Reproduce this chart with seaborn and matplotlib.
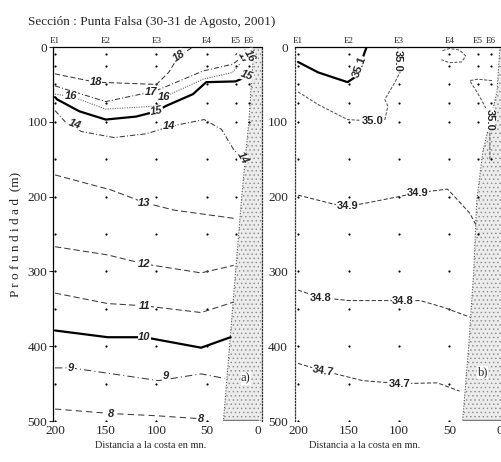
import numpy as np
import pandas as pd
import seaborn as sns
import matplotlib.pyplot as plt

# ---------------- data ----------------
stations = ["E1", "E2", "E3", "E4", "E5", "E6"]
station_km = [200, 150, 100, 50, 22, 9]
station_max_depth = [500, 500, 500, 500, 250, 150]
sample_depths = [10, 25, 50, 75, 100, 150, 200, 250, 300, 350, 400, 450, 500]

depth_ticks = [0, 100, 200, 300, 400, 500]
dist_ticks = [200, 150, 100, 50, 0]

# temperature isolines (panel a), distance (mn) / depth (m)
t18_km = [200, 160, 100, 88, 78, 64]
t18_m = [36, 47, 50, 34, 12, 0]
t17_km = [200, 150, 105, 96, 54, 25, 15, 12]
t17_m = [52, 73, 60, 56, 32, 23, 13, 0]
t16_km = [200, 184, 150, 100, 93, 54, 25, 9, 5]
t16_m = [63, 66, 83, 79, 67, 43, 34, 9, 0]
t15_km = [200, 198, 176, 150, 120, 100, 91, 64, 51, 22, 12, 6]
t15_m = [67, 70, 86, 97, 93, 86, 79, 63, 47, 46, 40, 39]
t14_km = [200, 190, 174, 142, 110, 86, 53, 36, 24, 15]
t14_m = [85, 100, 113, 121, 116, 106, 97, 110, 137, 150]
t13_km = [200, 145, 112, 83, 24]
t13_m = [171, 191, 208, 218, 229]
t12_km = [200, 148, 112, 56, 24]
t12_m = [267, 278, 290, 302, 292]
t11_km = [200, 148, 112, 56, 24]
t11_m = [329, 343, 346, 355, 341]
t10_km = [200, 148, 112, 56, 27]
t10_m = [379, 388, 388, 402, 388]
t9_km = [200, 184, 98, 56, 33]
t9_m = [429, 429, 446, 437, 443]
t8_km = [200, 145, 100, 56]
t8_m = [484, 490, 493, 497]

# salinity isolines (panel b)
s351_km = [200, 180, 151, 142, 139, 134, 132]
s351_m = [20, 34, 47, 39, 27, 7, 0]
s350_km = [200, 180, 151, 126, 114, 111, 114, 104, 99, 101, 101]
s350_m = [60, 77, 97, 99, 97, 79, 70, 47, 34, 16, 0]
s350b_km = [57, 50, 40, 34, 38, 50, 58]
s350b_m = [5, 2, 4, 12, 20, 21, 17]
s350c_km = [8, 22, 30, 22, 15, 10, 10]
s350c_m = [45, 43, 45, 62, 79, 97, 150]
s349_km = [200, 165, 151, 130, 100, 82, 52, 45, 30, 23]
s349_m = [198, 210, 213, 208, 200, 195, 190, 200, 222, 240]
s348_km = [200, 178, 149, 96, 79, 56, 30]
s348_m = [325, 335, 339, 339, 339, 348, 361]
s347_km = [200, 175, 136, 99, 62, 40]
s347_m = [423, 433, 446, 450, 449, 460]

# continental slope (sea floor)
bottom_a_m = [0, 100, 200, 300, 400, 500]
bottom_a_km = [4, 9, 16, 22, 28, 34]
bottom_b_m = [0, 60, 140, 205, 300, 400, 500]
bottom_b_km = [0, 3, 17, 23, 26, 31, 37]

# isoline labels: text, distance, depth, rotation
t_lab_txt = ["18", "18", "17", "17", "16", "16", "16", "15", "15", "14", "14", "14",
             "13", "12", "11", "10", "9", "9", "8", "8"]
t_lab_km = [160, 78, 105, 14, 184, 93, 8, 100, 11, 181, 88, 15,
            112, 112, 112, 112, 184, 91, 145, 56]
t_lab_m = [47, 12, 60, 15, 66, 67, 12, 86, 38, 103, 106, 148,
           208, 290, 346, 388, 429, 440, 490, 497]
t_lab_rot = [0, 35, 0, -60, 0, 0, -60, 10, -20, -20, 0, -60,
             0, 0, 0, 0, 0, 0, 0, 0]

s_lab_txt = ["35.1", "35.0", "35.0", "35.0", "34.9", "34.9", "34.8", "34.8", "34.7", "34.7"]
s_lab_km = [139, 101, 126, 10, 151, 82, 178, 96, 175, 99]
s_lab_m = [27, 18, 99, 97, 213, 195, 335, 339, 433, 450]
s_lab_rot = [70, -90, 0, -90, 0, 0, 0, 0, -10, 0]

# ---------------- styles ----------------
thin = dict(color="#3a3a3a", linewidth=0.75)
thick = dict(color="black", linewidth=1.6)
dash = (0, (5, 2.5))
dashdot = (0, (5, 2, 1, 2))
dots = (0, (1, 1.3))

t_lines = [
    (t18_km, t18_m, dict(thin, linestyle=dash)),
    (t17_km, t17_m, dict(thin, linestyle=dashdot)),
    (t16_km, t16_m, dict(thin, linestyle=dots, color="#555555")),
    (t15_km, t15_m, dict(thick, linestyle="-")),
    (t14_km, t14_m, dict(thin, linestyle=dashdot)),
    (t13_km, t13_m, dict(thin, linestyle=(0, (6, 3)))),
    (t12_km, t12_m, dict(thin, linestyle=(0, (6, 3)))),
    (t11_km, t11_m, dict(thin, linestyle=(0, (6, 3)))),
    (t10_km, t10_m, dict(thick, linestyle="-")),
    (t9_km, t9_m, dict(thin, linestyle=(0, (7, 3, 1, 3)))),
    (t8_km, t8_m, dict(thin, linestyle=(0, (6, 4)))),
]
s_lines = [
    (s351_km, s351_m, dict(thick, linestyle="-")),
    (s350_km, s350_m, dict(thin, linestyle=(0, (3, 1.5)), color="#555555")),
    (s350b_km, s350b_m, dict(thin, linestyle=(0, (3, 1.5)), color="#555555")),
    (s350c_km, s350c_m, dict(thin, linestyle=(0, (3, 1.5)), color="#555555")),
    (s349_km, s349_m, dict(thin, linestyle=(0, (4, 2)))),
    (s348_km, s348_m, dict(thin, linestyle=(0, (4, 2)))),
    (s347_km, s347_m, dict(thin, linestyle=(0, (4, 2)))),
]

# ---------------- figure ----------------
sns.set_theme(style="white")
plt.rcParams["font.family"] = ["Liberation Serif", "DejaVu Serif"]
plt.rcParams["hatch.linewidth"] = 0.5
plt.rcParams["hatch.color"] = "#808080"

W, H = 502, 462
fig = plt.figure(figsize=(W / 100, H / 100), dpi=100)
top_px, bot_px = 47, 421
axL = fig.add_axes([53 / W, 1 - bot_px / H, 209 / W, (bot_px - top_px) / H])
axR = fig.add_axes([295 / W, 1 - bot_px / H, 207 / W, (bot_px - top_px) / H])

pts = pd.DataFrame(
    [(k, d) for k, md in zip(station_km, station_max_depth) for d in sample_depths if d <= md],
    columns=["km", "m"],
)


def draw_panel(ax, lines, lab_txt, lab_km, lab_m, lab_rot, bot_km, bot_m, xlim, italic, tag, tag_pos):
    ax.set_xlim(*xlim)
    ax.set_ylim(500, 0)
    # sea floor
    ax.fill_betweenx(bot_m, bot_km, xlim[1] - 1, facecolor="#ececec", edgecolor="#8a8a8a",
                     hatch="....", linewidth=0, zorder=1)
    ax.plot(bot_km, bot_m, linestyle=(0, (1, 1.5)), color="#555555", linewidth=0.8, zorder=2)
    ax.plot([bot_km[-1], 0], [499, 499], color="#777777", linewidth=1.0, zorder=2)
    # stations
    sns.scatterplot(data=pts, x="km", y="m", ax=ax, s=2.5, color="black", marker="o",
                    linewidth=0, zorder=3)
    # isolines
    for km, m, st in lines:
        sns.lineplot(x=km, y=m, sort=False, estimator=None, ax=ax, zorder=4, **st)
    for t, k, d, r in zip(lab_txt, lab_km, lab_m, lab_rot):
        ax.text(k, d, t, ha="center", va="center", rotation=r, fontsize=8,
                fontweight="bold", fontstyle="italic" if italic else "normal",
                family=["Liberation Sans", "DejaVu Sans"], zorder=6,
                bbox=dict(facecolor="white", edgecolor="none", pad=0.4))
    # station names
    for name, k in zip(stations, station_km):
        ax.text(k, -3, name, ha="center", va="bottom", fontsize=6.5, color="#222222")
    ax.text(tag_pos[0], tag_pos[1], tag, ha="center", va="center", fontsize=9,
            zorder=6, bbox=dict(facecolor="white", edgecolor="none", pad=0.3))
    ax.set_xticks(dist_ticks)
    ax.set_xticklabels([str(v) for v in dist_ticks])
    ax.set_yticks(depth_ticks)
    ax.set_yticklabels([str(v) for v in depth_ticks])
    ax.set_xlabel("")
    ax.set_ylabel("")
    ax.tick_params(axis="x", length=0, pad=3, labelsize=9.5)
    ax.spines["bottom"].set_visible(False)
    ax.spines["top"].set_linewidth(0.9)
    ax.spines["top"].set_color("black")
    ax.spines["right"].set_linestyle((0, (1, 1.5)))
    ax.spines["right"].set_color("#333333")
    ax.spines["right"].set_linewidth(0.9)
    ax.grid(False)


draw_panel(axL, t_lines, t_lab_txt, t_lab_km, t_lab_m, t_lab_rot,
           bottom_a_km, bottom_a_m, (202, -4), True, "a)", (12, 443))
draw_panel(axR, s_lines, s_lab_txt, s_lab_km, s_lab_m, s_lab_rot,
           bottom_b_km, bottom_b_m, (203, -2), False, "b)", (17, 435))

axL.spines["left"].set_color("black")
axL.spines["left"].set_linewidth(0.9)
axL.tick_params(axis="y", direction="out", length=3, width=0.8, pad=1, labelsize=9.5, left=True)
axR.spines["left"].set_linestyle((0, (1, 1.5)))
axR.spines["left"].set_color("#333333")
axR.spines["left"].set_linewidth(0.9)
axR.tick_params(axis="y", length=0, pad=5, labelsize=9.5)

fig.text(28 / W, 1 - 22 / H, "Sección : Punta Falsa (30-31 de Agosto, 2001)",
         ha="left", va="center", fontsize=9.5)
fig.text(15 / W, 1 - 234 / H, "P r o f u n d i d a d  (m)", rotation=90,
         ha="center", va="center", fontsize=9.5)
fig.text(151 / W, 1 - 445 / H, "Distancia a la costa en mn.", ha="center", va="center", fontsize=7.5)
fig.text(365 / W, 1 - 445 / H, "Distancia a la costa en mn.", ha="center", va="center", fontsize=7.5)

fig.savefig("out.png", dpi=100)
